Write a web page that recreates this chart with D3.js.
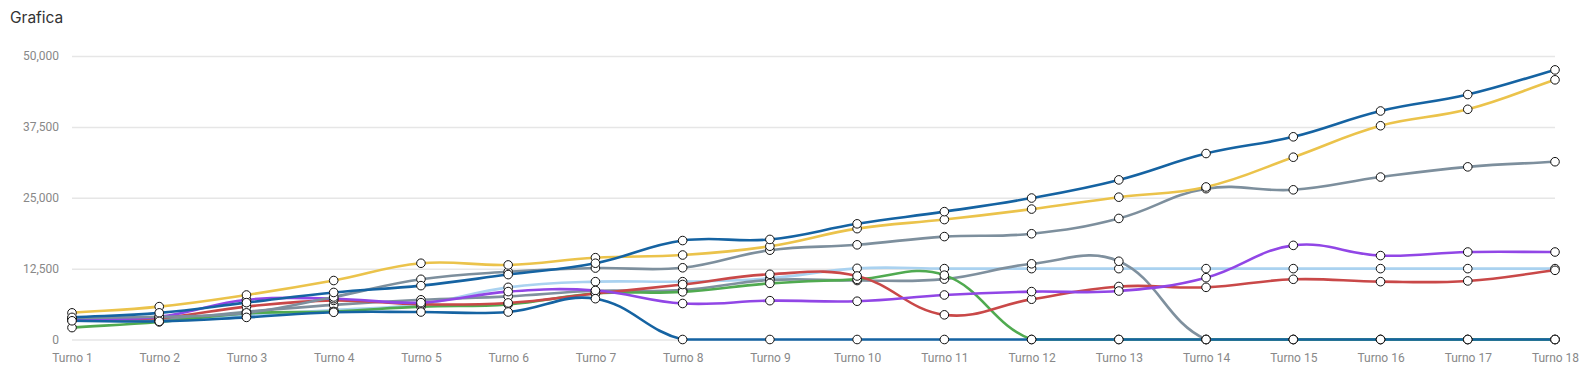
<!DOCTYPE html>
<html>
<head>
<meta charset="utf-8">
<script src="https://cdn.jsdelivr.net/npm/d3@7"></script>
<style>
  html, body { margin: 0; padding: 0; background: #fff; }
  svg { display: block; }
</style>
</head>
<body>
<svg id="chart" width="1593" height="382"></svg>
<script>
const categories = ["Turno 1","Turno 2","Turno 3","Turno 4","Turno 5","Turno 6","Turno 7","Turno 8","Turno 9","Turno 10","Turno 11","Turno 12","Turno 13","Turno 14","Turno 15","Turno 16","Turno 17","Turno 18"];
const yTicks = [0, 12500, 25000, 37500, 50000];

const lightBlue = [3500, 3300, 4300, 5200, 6200, 9200, 10200, 10200, 10800, 12550, 12500, 12500, 12500, 12500, 12500, 12500, 12500, 12500];
const grayB     = [3400, 3500, 4900, 6100, 7000, 7600, 8600, 8700, 10500, 10400, 10650, 13350, 13800, 0, 0, 0, 0, 0];
const green     = [2100, 3100, 4600, 4950, 5800, 6200, 8100, 8400, 9900, 10600, 11350, 0, 0, 0, 0, 0, 0, 0];
const red       = [3600, 3800, 5800, 6900, 6200, 6450, 8100, 9700, 11500, 11200, 4350, 7100, 9350, 9200, 10620, 10200, 10330, 12200];
const purple    = [3600, 4000, 7000, 7200, 6500, 8450, 8650, 6350, 6850, 6750, 7850, 8450, 8550, 10900, 16600, 14800, 15430, 15430];
const grayA     = [3800, 4000, 4700, 7500, 10620, 11950, 12600, 12650, 15750, 16700, 18150, 18650, 21350, 26600, 26400, 28650, 30450, 31350];
const yellow    = [4700, 5800, 7850, 10400, 13450, 13150, 14430, 14900, 16450, 19550, 21150, 23000, 25100, 26900, 32150, 37700, 40600, 45800];
const blueA     = [3900, 4700, 6500, 8300, 9500, 11450, 13450, 17450, 17650, 20400, 22550, 24950, 28150, 32800, 35750, 40300, 43200, 47550];
const blueB     = [3300, 3200, 3900, 4800, 4850, 4850, 7200, 0, 0, 0, 0, 0, 0, 0, 0, 0, 0, 0];

const seriesList = [
  {values: lightBlue, color: "#aad2f0"},
  {values: grayB,     color: "#7f909e"},
  {values: green,     color: "#50aa50"},
  {values: red,       color: "#c94848"},
  {values: purple,    color: "#9146e6"},
  {values: grayA,     color: "#7d8f9d"},
  {values: yellow,    color: "#ebc34b"},
  {values: blueA,     color: "#1563a2"},
  {values: blueB,     color: "#1563a2"}
];

const svg = d3.select("#chart");
const plotLeft = 72, plotRight = 1555, plotTop = 56, plotBottom = 339.5;

const x = d3.scalePoint().domain(categories).range([plotLeft, plotRight]);
const y = d3.scaleLinear().domain([0, 50000]).range([plotBottom, plotTop]);

// Spline curve (tension-weighted bezier, control points capped to the plot area)
function SplineCurve(context, tension, bounds) {
  this._context = context; this._t = tension; this._b = bounds;
}
SplineCurve.prototype = {
  areaStart() { this._line = 0; },
  areaEnd() { this._line = NaN; },
  lineStart() { this._pts = []; },
  point(px, py) { this._pts.push([+px, +py]); },
  lineEnd() {
    const p = this._pts, n = p.length, ctx = this._context, t = this._t, b = this._b;
    if (!n) return;
    const clampX = v => Math.max(b[0], Math.min(b[1], v));
    const clampY = v => Math.max(b[2], Math.min(b[3], v));
    const cps = p.map((cur, i) => {
      const prev = i > 0 ? p[i - 1] : cur;
      const next = i < n - 1 ? p[i + 1] : cur;
      const d01 = Math.hypot(cur[0] - prev[0], cur[1] - prev[1]);
      const d12 = Math.hypot(next[0] - cur[0], next[1] - cur[1]);
      let s01 = d01 / (d01 + d12), s12 = d12 / (d01 + d12);
      if (!isFinite(s01)) s01 = 0;
      if (!isFinite(s12)) s12 = 0;
      const fa = t * s01, fb = t * s12;
      return {
        c1: [clampX(cur[0] - fa * (next[0] - prev[0])), clampY(cur[1] - fa * (next[1] - prev[1]))],
        c2: [clampX(cur[0] + fb * (next[0] - prev[0])), clampY(cur[1] + fb * (next[1] - prev[1]))]
      };
    });
    ctx.moveTo(p[0][0], p[0][1]);
    for (let i = 1; i < n; i++) {
      ctx.bezierCurveTo(cps[i - 1].c2[0], cps[i - 1].c2[1], cps[i].c1[0], cps[i].c1[1], p[i][0], p[i][1]);
    }
  }
};
const splineCurve = ctx => new SplineCurve(ctx, 0.4, [plotLeft, plotRight, plotTop, plotBottom]);

svg.append("text")
  .attr("x", 10).attr("y", 23)
  .attr("font-family", "Inter, 'Noto Sans', sans-serif")
  .attr("font-size", 15.5)
  .attr("fill", "#333")
  .text("Grafica");

// grid + y axis
const yAxis = d3.axisLeft(y).tickValues(yTicks).tickFormat(d3.format(",")).tickSize(-(plotRight - plotLeft)).tickPadding(13);
const gy = svg.append("g").attr("transform", `translate(${plotLeft},0)`).call(yAxis);
gy.select(".domain").remove();
gy.selectAll(".tick line").attr("stroke", "#e6e6e6").attr("stroke-width", 1.5);
gy.selectAll(".tick text")
  .attr("font-family", "Roboto, sans-serif")
  .attr("font-size", 12)
  .attr("fill", "#888");

// x axis
const xAxis = d3.axisBottom(x).tickSize(0).tickPadding(14);
const gx = svg.append("g").attr("transform", `translate(0,${plotBottom})`).call(xAxis);
gx.select(".domain").remove();
gx.selectAll(".tick text")
  .attr("font-family", "Roboto, sans-serif")
  .attr("font-size", 12)
  .attr("fill", "#888");

const line = d3.line()
  .x((d, i) => x(categories[i]))
  .y(d => y(d))
  .curve(splineCurve);

const gl = svg.append("g");
seriesList.forEach(s => {
  gl.append("path")
    .attr("d", line(s.values))
    .attr("fill", "none")
    .attr("stroke", s.color)
    .attr("stroke-width", 2.6)
    .attr("stroke-linejoin", "round");
});

const gp = svg.append("g");
seriesList.forEach(s => {
  gp.selectAll(null)
    .data(s.values)
    .enter().append("circle")
    .attr("cx", (d, i) => x(categories[i]))
    .attr("cy", d => y(d))
    .attr("r", 4.3)
    .attr("fill", "#fff")
    .attr("stroke", "#111")
    .attr("stroke-width", 1);
});
</script>
</body>
</html>
